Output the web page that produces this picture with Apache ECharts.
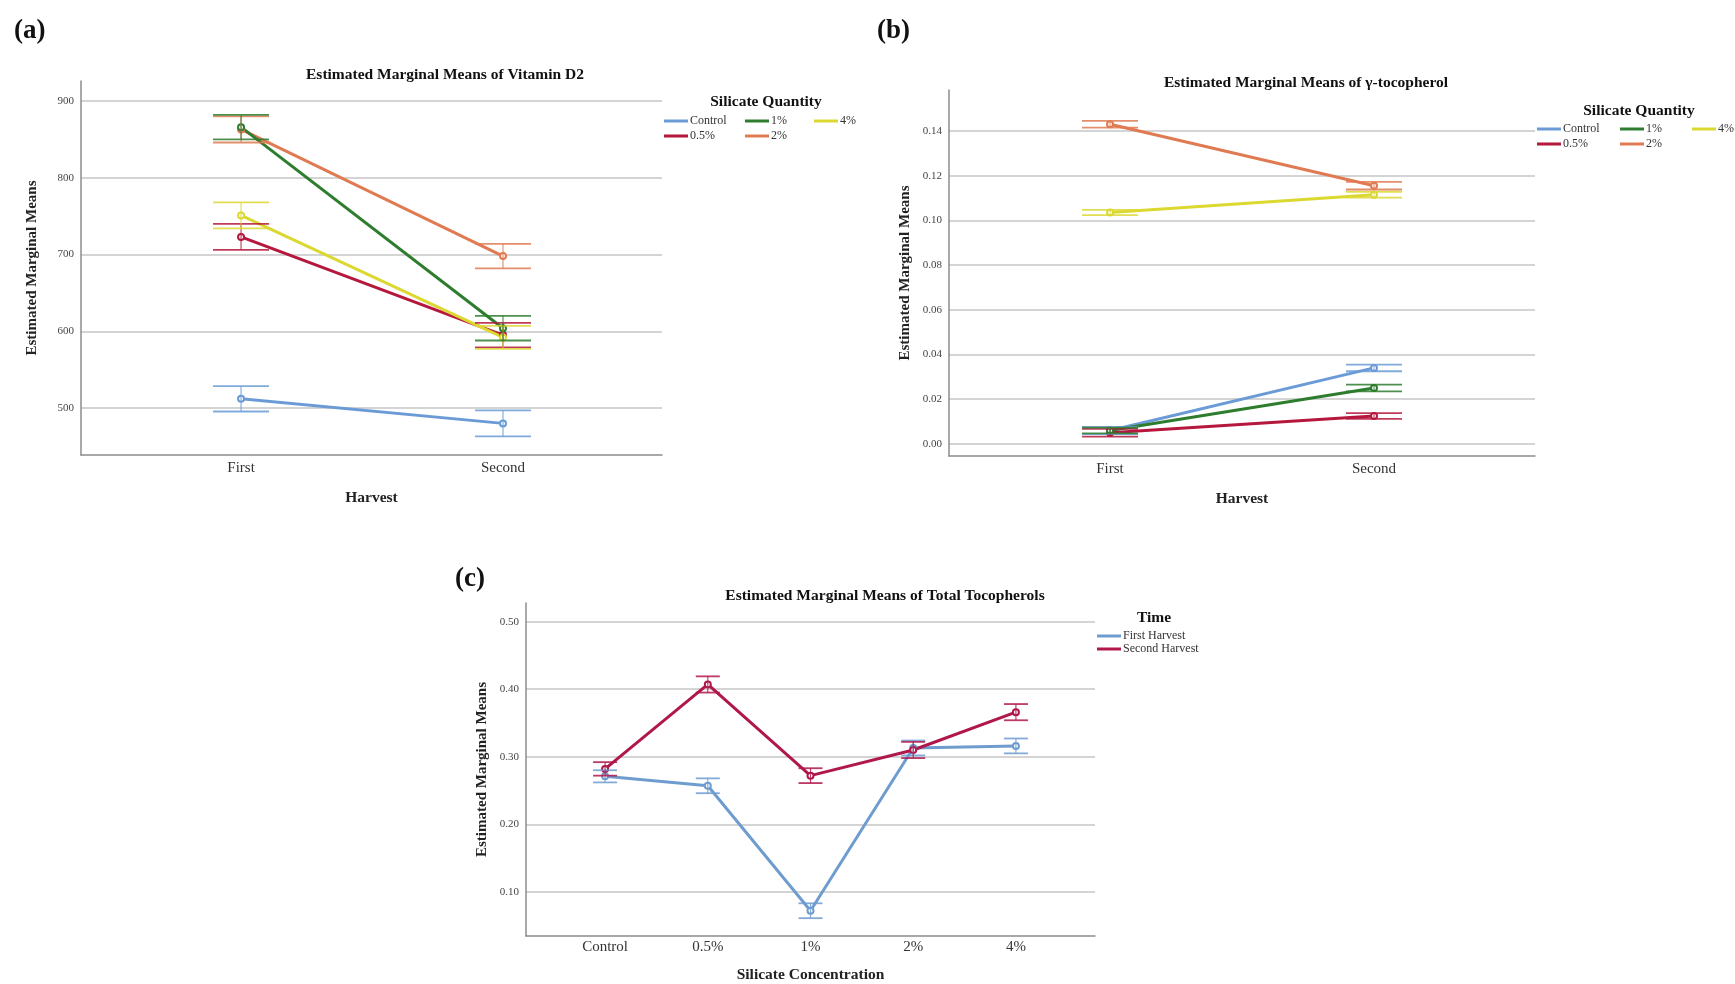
<!DOCTYPE html>
<html>
<head>
<meta charset="utf-8">
<script src="https://cdn.jsdelivr.net/npm/echarts@6/dist/echarts.min.js"></script>
<style>html,body{margin:0;padding:0;background:#fff}#chart{width:1735px;height:984px}</style>
</head>
<body>
<div id="chart"></div>
<script>
// ---------- DATA ----------
const harvests = ['First', 'Second'];
const silicateGroups = ['Control', '0.5%', '1%', '2%', '4%'];
const concentrations = ['Control', '0.5%', '1%', '2%', '4%'];
const timeGroups = ['First Harvest', 'Second Harvest'];

// (a) Vitamin D2 means and error half-widths (First, Second)
const d2Control = [512, 480];
const d2Half = [723, 595];
const d2One = [866, 604];
const d2Two = [863, 698];
const d2Four = [751, 592];
const d2ControlErr = [16.5, 17];
const d2HalfErr = [17, 16];
const d2OneErr = [16, 16];
const d2TwoErr = [17, 16];
const d2FourErr = [17, 15];
const d2Ticks = [500, 600, 700, 800, 900];

// (b) gamma-tocopherol
const gtControl = [0.006, 0.034];
const gtHalf = [0.005, 0.0125];
const gtOne = [0.006, 0.025];
const gtTwo = [0.143, 0.1155];
const gtFour = [0.1035, 0.1115];
const gtControlErr = [0.0016, 0.0015];
const gtHalfErr = [0.0017, 0.0013];
const gtOneErr = [0.0013, 0.0015];
const gtTwoErr = [0.0015, 0.0017];
const gtFourErr = [0.0012, 0.0013];
const gtTicks = [0, 0.02, 0.04, 0.06, 0.08, 0.10, 0.12, 0.14];

// (c) Total tocopherols
const ttFirst = [0.271, 0.257, 0.072, 0.313, 0.316];
const ttSecond = [0.282, 0.407, 0.272, 0.310, 0.366];
const ttFirstErr = [0.009, 0.011, 0.011, 0.011, 0.011];
const ttSecondErr = [0.010, 0.012, 0.011, 0.012, 0.012];
const ttTicks = [0.10, 0.20, 0.30, 0.40, 0.50];

// ---------- STYLE ----------
const FONT = '"Liberation Serif", "Times New Roman", serif';
const groupColors = ['#6b9bd6', '#b5173d', '#2e7d2e', '#e07a52', '#dcd832'];
const timeColors = ['#6e9ccf', '#b0174a'];
const gridColor = '#c6c6c6';
const axisColor = '#8c8c8c';

function lineSeries(name, idx, values, color, width) {
  return {
    type: 'line', name: name, xAxisIndex: idx, yAxisIndex: idx,
    data: values.map((v, j) => [j, v]),
    symbol: 'emptyCircle', symbolSize: 6,
    lineStyle: { color: color, width: width },
    itemStyle: { color: color, borderWidth: 1.5 },
    z: 3
  };
}
function errSeries(name, idx, values, errs, color, cap) {
  return {
    type: 'custom', name: name, xAxisIndex: idx, yAxisIndex: idx,
    data: values.map((v, j) => [j, v - errs[j], v + errs[j]]),
    encode: { x: 0, y: [1, 2] },
    z: 4,
    renderItem: function (params, api) {
      const x = api.value(0);
      const lo = api.coord([x, api.value(1)]);
      const hi = api.coord([x, api.value(2)]);
      const st = { stroke: color, lineWidth: 1.8, fill: null, opacity: 0.85 };
      return {
        type: 'group', children: [
          { type: 'line', shape: { x1: lo[0], y1: lo[1], x2: hi[0], y2: hi[1] }, style: { stroke: color, lineWidth: 1.2, opacity: 0.8 } },
          { type: 'line', shape: { x1: lo[0] - cap, y1: lo[1], x2: lo[0] + cap, y2: lo[1] }, style: st },
          { type: 'line', shape: { x1: hi[0] - cap, y1: hi[1], x2: hi[0] + cap, y2: hi[1] }, style: st }
        ]
      };
    }
  };
}
function legendItem(name, left, top) {
  return {
    data: [name], left: left, top: top, padding: 0, itemGap: 0,
    itemWidth: 24, itemHeight: 3, icon: 'rect',
    formatter: n => n.split('|')[1],
    textStyle: { fontFamily: FONT, fontSize: 12, color: '#333', padding: [0, 0, 0, -3] }
  };
}
function xAxisCfg(idx, min, max, cats, name, nameGap, margin) {
  const vals = cats.map((c, i) => i);
  return {
    type: 'value', gridIndex: idx, min: min, max: max,
    axisLine: { show: true, onZero: false, lineStyle: { color: axisColor, width: 1.5 } },
    axisTick: { show: false, customValues: vals },
    splitLine: { show: false },
    axisLabel: { customValues: vals, formatter: v => cats[Math.round(v)], fontFamily: FONT, fontSize: 15, color: '#333', margin: margin },
    name: name, nameLocation: 'middle', nameGap: nameGap,
    nameTextStyle: { fontFamily: FONT, fontWeight: 'bold', fontSize: 15.5, color: '#222' }
  };
}
function yAxisCfg(idx, min, max, ticks, fmt, nameGap) {
  return {
    type: 'value', gridIndex: idx, min: min, max: max,
    axisLine: { show: true, onZero: false, lineStyle: { color: axisColor, width: 1.5 } },
    axisTick: { show: false, customValues: ticks },
    splitLine: { show: true, lineStyle: { color: gridColor, width: 1.5 } },
    axisLabel: { customValues: ticks, formatter: fmt, fontFamily: FONT, fontSize: 11, color: '#444', margin: 7 },
    name: 'Estimated Marginal Means', nameLocation: 'middle', nameGap: nameGap,
    nameTextStyle: { fontFamily: FONT, fontWeight: 'bold', fontSize: 15, color: '#222' }
  };
}

// ---------- BUILD ----------
const series = [];
const legends = [];
const d2Means = [d2Control, d2Half, d2One, d2Two, d2Four];
const d2Errs = [d2ControlErr, d2HalfErr, d2OneErr, d2TwoErr, d2FourErr];
const gtMeans = [gtControl, gtHalf, gtOne, gtTwo, gtFour];
const gtErrs = [gtControlErr, gtHalfErr, gtOneErr, gtTwoErr, gtFourErr];
const drawOrder = [0, 1, 4, 3, 2];

drawOrder.forEach(i => {
  series.push(lineSeries('a|' + silicateGroups[i], 0, d2Means[i], groupColors[i], 3));
  series.push(errSeries('a|' + silicateGroups[i], 0, d2Means[i], d2Errs[i], groupColors[i], 28));
});
drawOrder.forEach(i => {
  series.push(lineSeries('b|' + silicateGroups[i], 1, gtMeans[i], groupColors[i], 3));
  series.push(errSeries('b|' + silicateGroups[i], 1, gtMeans[i], gtErrs[i], groupColors[i], 28));
});
const ttMeans = [ttFirst, ttSecond];
const ttErrs = [ttFirstErr, ttSecondErr];
[0, 1].forEach(i => {
  series.push(lineSeries('c|' + timeGroups[i], 2, ttMeans[i], timeColors[i], 3));
  series.push(errSeries('c|' + timeGroups[i], 2, ttMeans[i], ttErrs[i], timeColors[i], 12));
});

// legend positions: columns [Control, 0.5%] [1%, 2%] [4%]
const legA = { left: [664, 664, 745, 745, 814], top: [115, 130, 115, 130, 115] };
const legB = { left: [1537, 1537, 1620, 1620, 1692], top: [123, 138, 123, 138, 123] };
silicateGroups.forEach((g, i) => {
  legends.push(legendItem('a|' + g, legA.left[i], legA.top[i]));
  legends.push(legendItem('b|' + g, legB.left[i], legB.top[i]));
});
legends.push(legendItem('c|' + timeGroups[0], 1097, 630));
legends.push(legendItem('c|' + timeGroups[1], 1097, 643));

function txt(text, x, y, size, align) {
  return { type: 'text', x: x, y: y, style: { text: text, fontFamily: FONT, fontWeight: 'bold', fontSize: size, fill: '#111', align: align || 'center', verticalAlign: 'middle', textAlign: align || 'center', textVerticalAlign: 'middle' } };
}

const option = {
  backgroundColor: '#fff',
  animation: false,
  grid: [
    { left: 81, right: 1735 - 662, top: 81, bottom: 984 - 455 },
    { left: 949, right: 1735 - 1535, top: 90, bottom: 984 - 456 },
    { left: 526, right: 1735 - 1095, top: 603, bottom: 984 - 937 }
  ],
  xAxis: [
    xAxisCfg(0, -0.611, 1.607, harvests, 'Harvest', 35, 6),
    xAxisCfg(1, -0.61, 1.61, harvests, 'Harvest', 35, 6),
    xAxisCfg(2, -0.77, 4.77, concentrations, 'Silicate Concentration', 31, 4)
  ],
  yAxis: [
    yAxisCfg(0, 438.8, 926.1, d2Ticks, v => String(Math.round(v)), 41),
    yAxisCfg(1, -0.0054, 0.1583, gtTicks, v => v.toFixed(2), 36),
    yAxisCfg(2, 0.0346, 0.5276, ttTicks, v => v.toFixed(2), 36)
  ],
  legend: legends,
  graphic: [
    txt('(a)', 14, 31, 27, 'left'),
    txt('(b)', 877, 31, 27, 'left'),
    txt('(c)', 455, 579, 27, 'left'),
    txt('Estimated Marginal Means of Vitamin D2', 445, 75, 15.5),
    txt('Estimated Marginal Means of \u03b3-tocopherol', 1306, 83, 15.5),
    txt('Estimated Marginal Means of Total Tocopherols', 885, 596, 15.5),
    txt('Silicate Quantity', 766, 102, 15.5),
    txt('Silicate Quantity', 1639, 111, 15.5),
    txt('Time', 1154, 618, 15.5)
  ],
  series: series
};

const chart = echarts.init(document.getElementById('chart'), null, { renderer: 'canvas' });
chart.setOption(option);
</script>
</body>
</html>
